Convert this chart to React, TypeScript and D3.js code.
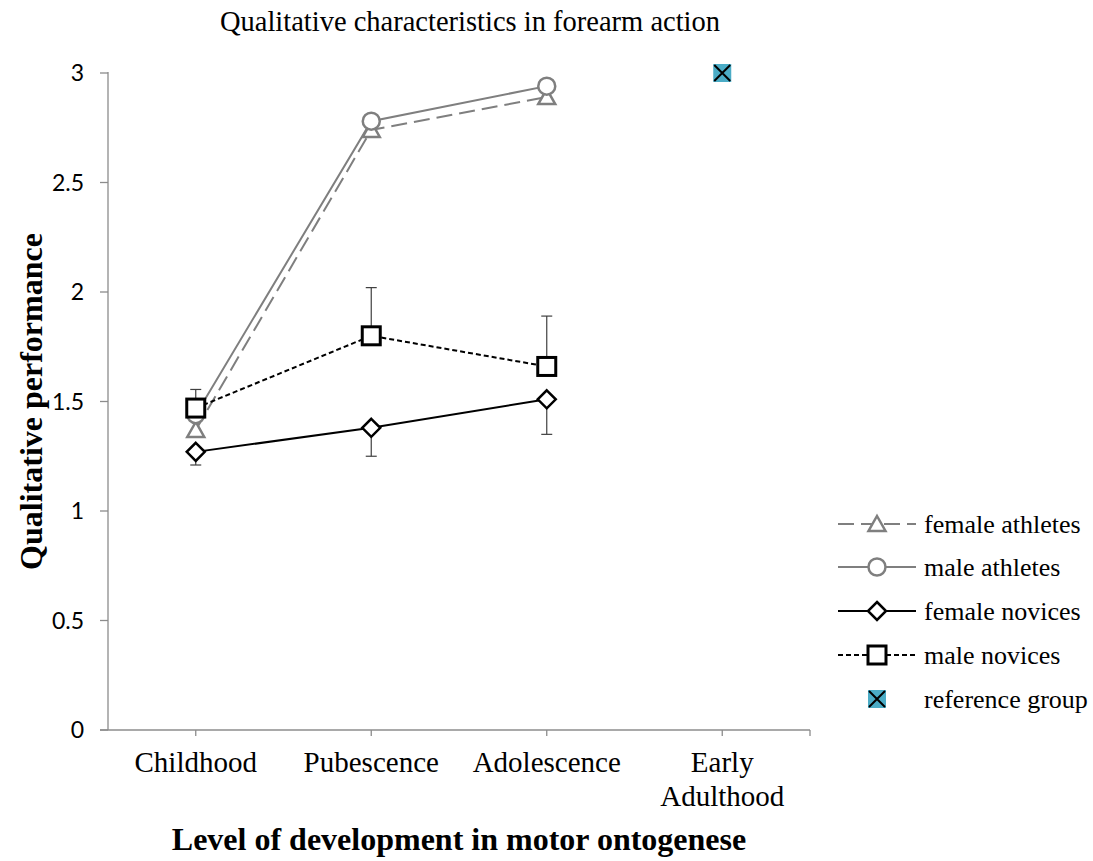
import * as d3 from "d3";

const categories = ["Childhood", "Pubescence", "Adolescence", "Early Adulthood"];
const yTicks = [0, 0.5, 1, 1.5, 2, 2.5, 3];

const femaleAthletes = [1.37, 2.74, 2.89];
const maleAthletes = [1.44, 2.78, 2.94];
const femaleNovices = [1.27, 1.38, 1.51];
const maleNovices = [1.47, 1.8, 1.66];
// error bars: novices only (male up, female down)
const maleNovicesErrHigh = [1.555, 2.02, 1.89];
const femaleNovicesErrLow = [1.21, 1.25, 1.35];
const referenceGroup = [3];

const seriesNames = ["female athletes", "male athletes", "female novices", "male novices", "reference group"];

const W = 1093;
const H = 861;
const margin = { left: 108, right: 283, top: 73, bottom: 131 };
const serif = "'Liberation Serif', 'Times New Roman', serif";
const sans = "Lato, 'Liberation Sans', sans-serif";

type Style = { color: string; dash: string; marker: string };
const styles: Style[] = [
  { color: "#7f7f7f", dash: "16,7", marker: "triangle" },
  { color: "#7f7f7f", dash: "", marker: "circle" },
  { color: "#000000", dash: "", marker: "diamond" },
  { color: "#000000", dash: "5,3", marker: "square" },
];

function Marker({ kind, x, y, color }: { kind: string; x: number; y: number; color: string }) {
  if (kind === "circle")
    return <circle cx={x} cy={y} r={8.5} fill="#fff" stroke={color} strokeWidth={2.5} />;
  if (kind === "triangle")
    return (
      <path
        d={`M${x},${y - 8}L${x + 8.5},${y + 7}L${x - 8.5},${y + 7}Z`}
        fill="#fff"
        stroke={color}
        strokeWidth={2.5}
      />
    );
  if (kind === "diamond")
    return (
      <path
        d={`M${x},${y - 9}L${x + 9},${y}L${x},${y + 9}L${x - 9},${y}Z`}
        fill="#fff"
        stroke={color}
        strokeWidth={2.5}
      />
    );
  if (kind === "square")
    return <rect x={x - 9} y={y - 9} width={18} height={18} fill="#fff" stroke={color} strokeWidth={3} />;
  // reference group
  return (
    <g>
      <rect x={x - 9} y={y - 9} width={18} height={18} fill="#4bacc6" />
      <path d={`M${x - 8},${y - 8}L${x + 8},${y + 8}M${x + 8},${y - 8}L${x - 8},${y + 8}`} stroke="#000" strokeWidth={2} />
    </g>
  );
}

export default function App() {
  const innerW = W - margin.left - margin.right;
  const innerH = H - margin.top - margin.bottom;

  const x = d3.scaleBand().domain(categories).range([margin.left, margin.left + innerW]).padding(0);
  const cx = (c: string) => (x(c) ?? 0) + x.bandwidth() / 2;
  const y = d3.scaleLinear().domain([0, 3]).range([margin.top + innerH, margin.top]);

  const line = d3
    .line<number>()
    .x((_, i) => cx(categories[i]))
    .y((d) => y(d));

  const allSeries = [femaleAthletes, maleAthletes, femaleNovices, maleNovices];
  const axisColor = "#8c8c8c";
  const x0 = margin.left;
  const y0 = margin.top + innerH;

  const legendX = 838;
  const legendY = [524, 567, 611, 655, 699];

  return (
    <svg width={W} height={H} style={{ position: "absolute", left: 0, top: 0, background: "#fff" }} fontFamily={serif}>
      <text x={470} y={31} fontSize={28.5} textAnchor="middle">
        Qualitative characteristics in forearm action
      </text>

      {/* y axis */}
      <line x1={x0} x2={x0} y1={margin.top - 1} y2={y0} stroke={axisColor} strokeWidth={1.3} />
      {yTicks.map((t) => (
        <g key={t}>
          <line x1={x0 - 8} x2={x0} y1={y(t)} y2={y(t)} stroke={axisColor} strokeWidth={1.3} />
          <text x={84} y={y(t)} dy="0.36em" fontSize={23} textAnchor="end" fontFamily={sans}>
            {t}
          </text>
        </g>
      ))}

      {/* x axis */}
      <line x1={x0 - 8} x2={margin.left + innerW} y1={y0} y2={y0} stroke={axisColor} strokeWidth={1.3} />
      {[...categories.map((c) => cx(c)), margin.left + innerW].map((v, i) => (
        <line key={i} x1={v} x2={v} y1={y0} y2={y0 + 6} stroke={axisColor} strokeWidth={1.3} />
      ))}
      {categories.map((c) => {
        const parts = c === "Early Adulthood" ? ["Early", "Adulthood"] : [c];
        return (
          <text key={c} x={cx(c)} y={772} fontSize={29} textAnchor="middle">
            {parts.map((p, i) => (
              <tspan key={p} x={cx(c)} dy={i === 0 ? 0 : 34}>
                {p}
              </tspan>
            ))}
          </text>
        );
      })}

      <text
        transform={`translate(42, ${margin.top + innerH / 2}) rotate(-90)`}
        fontSize={32}
        fontWeight="bold"
        textAnchor="middle"
      >
        Qualitative performance
      </text>
      <text x={459} y={850} fontSize={32} fontWeight="bold" textAnchor="middle">
        Level of development in motor ontogenese
      </text>

      {/* error bars */}
      {maleNovices.map((v, i) => {
        const px = cx(categories[i]);
        return (
          <g key={"m" + i} stroke="#404040" strokeWidth={1.2}>
            <line x1={px} x2={px} y1={y(v)} y2={y(maleNovicesErrHigh[i])} />
            <line x1={px - 5.5} x2={px + 5.5} y1={y(maleNovicesErrHigh[i])} y2={y(maleNovicesErrHigh[i])} />
          </g>
        );
      })}
      {femaleNovices.map((v, i) => {
        const px = cx(categories[i]);
        return (
          <g key={"f" + i} stroke="#404040" strokeWidth={1.2}>
            <line x1={px} x2={px} y1={y(v)} y2={y(femaleNovicesErrLow[i])} />
            <line x1={px - 5.5} x2={px + 5.5} y1={y(femaleNovicesErrLow[i])} y2={y(femaleNovicesErrLow[i])} />
          </g>
        );
      })}

      {/* lines */}
      {allSeries.map((s, si) => (
        <path
          key={si}
          d={line(s) ?? ""}
          fill="none"
          stroke={styles[si].color}
          strokeWidth={2}
          strokeDasharray={styles[si].dash}
        />
      ))}
      {allSeries.map((s, si) =>
        s.map((v, i) => (
          <Marker key={si + "-" + i} kind={styles[si].marker} x={cx(categories[i])} y={y(v)} color={styles[si].color} />
        ))
      )}
      {referenceGroup.map((v, i) => (
        <Marker key={"r" + i} kind="ref" x={cx(categories[3])} y={y(v)} color="#000" />
      ))}

      {/* legend */}
      {seriesNames.map((name, i) => (
        <g key={name}>
          {i < 4 && (
            <line
              x1={legendX}
              x2={legendX + 78}
              y1={legendY[i]}
              y2={legendY[i]}
              stroke={styles[i].color}
              strokeWidth={2}
              strokeDasharray={styles[i].dash}
            />
          )}
          <Marker
            kind={i < 4 ? styles[i].marker : "ref"}
            x={legendX + 39}
            y={legendY[i]}
            color={i < 4 ? styles[i].color : "#000"}
          />
          <text x={924} y={legendY[i]} dy="0.33em" fontSize={26}>
            {name}
          </text>
        </g>
      ))}
    </svg>
  );
}
